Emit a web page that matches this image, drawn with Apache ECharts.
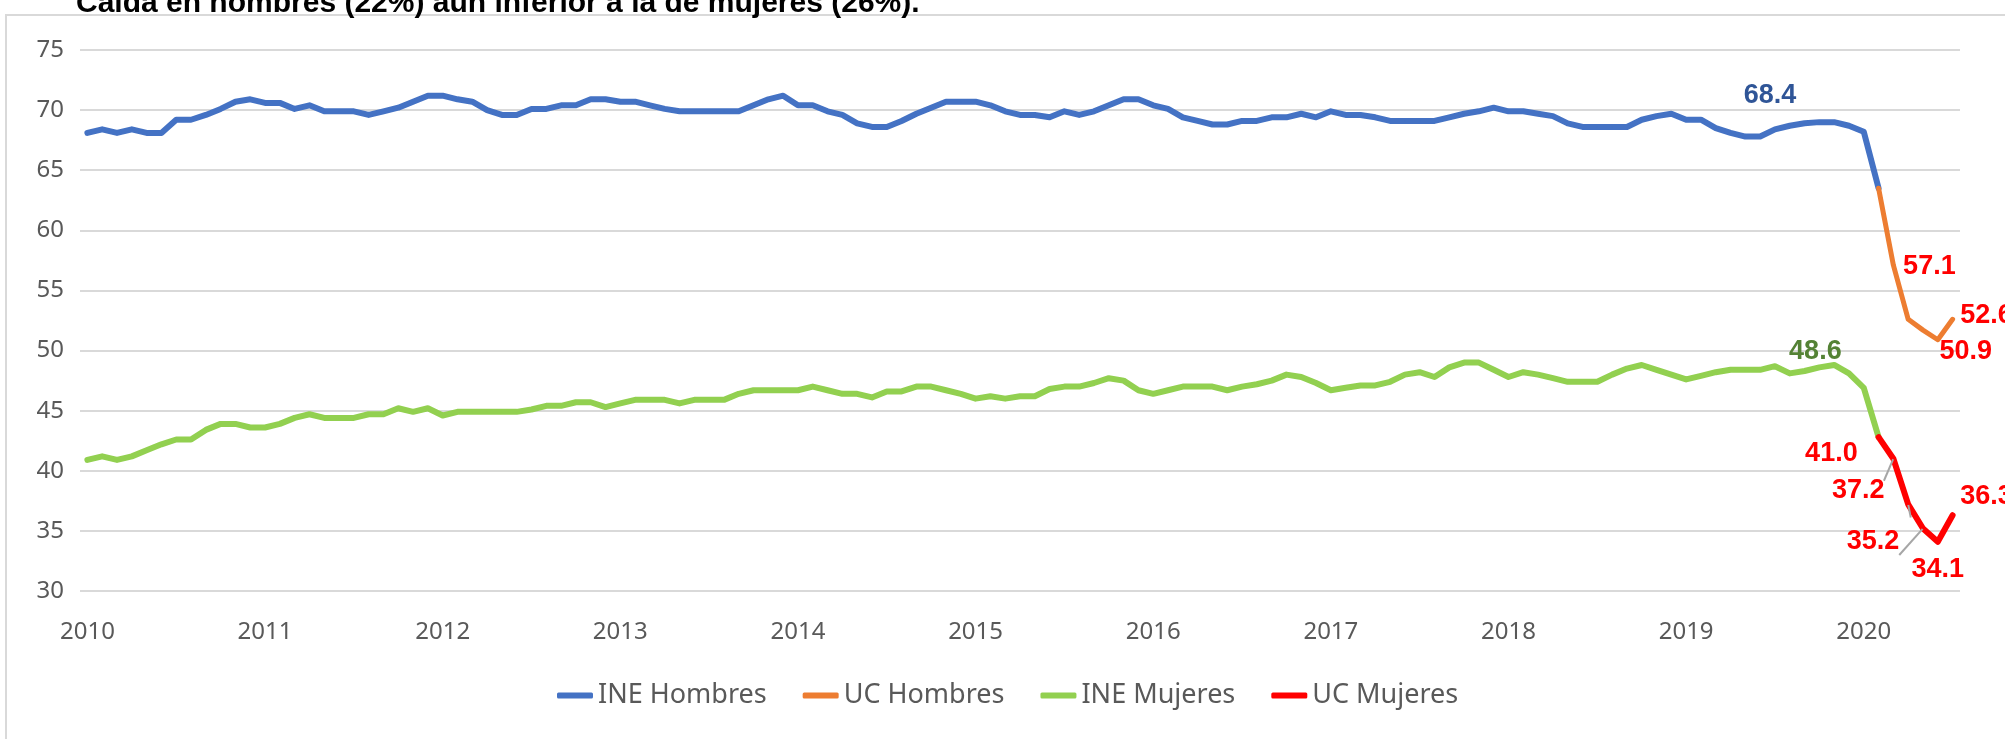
<!DOCTYPE html>
<html>
<head>
<meta charset="utf-8">
<script src="https://cdn.jsdelivr.net/npm/echarts@6/dist/echarts.min.js"></script>
<style>
  html, body { margin: 0; padding: 0; background: #fff; }
  #chart { width: 2005px; height: 739px; }
</style>
</head>
<body>
<div id="chart"></div>
<script>
// eje x: meses desde ene-2010 hasta jul-2020
const years = ["2010", "2011", "2012", "2013", "2014", "2015", "2016", "2017", "2018", "2019", "2020"];
const monthCodes = ["01", "02", "03", "04", "05", "06", "07", "08", "09", "10", "11", "12"];
const lastMonth2020 = 7;

// eje y
const yMin = 30;
const yMax = 75;
const yStep = 5;

// tasas de ocupacion (INE hasta feb-2020)
const ineHombres = [
  68.1, 68.4, 68.1, 68.4, 68.1, 68.1, 69.2, 69.2, 69.6, 70.1, 70.7, 70.9,
  70.6, 70.6, 70.1, 70.4, 69.9, 69.9, 69.9, 69.6, 69.9, 70.2, 70.7, 71.2,
  71.2, 70.9, 70.7, 70.0, 69.6, 69.6, 70.1, 70.1, 70.4, 70.4, 70.9, 70.9,
  70.7, 70.7, 70.4, 70.1, 69.9, 69.9, 69.9, 69.9, 69.9, 70.4, 70.9, 71.2,
  70.4, 70.4, 69.9, 69.6, 68.9, 68.6, 68.6, 69.1, 69.7, 70.2, 70.7, 70.7,
  70.7, 70.4, 69.9, 69.6, 69.6, 69.4, 69.9, 69.6, 69.9, 70.4, 70.9, 70.9,
  70.4, 70.1, 69.4, 69.1, 68.8, 68.8, 69.1, 69.1, 69.4, 69.4, 69.7, 69.4,
  69.9, 69.6, 69.6, 69.4, 69.1, 69.1, 69.1, 69.1, 69.4, 69.7, 69.9, 70.2,
  69.9, 69.9, 69.7, 69.5, 68.9, 68.6, 68.6, 68.6, 68.6, 69.2, 69.5, 69.7,
  69.2, 69.2, 68.5, 68.1, 67.8, 67.8, 68.4, 68.7, 68.9, 69.0, 69.0, 68.7,
  68.2, 63.5
];
const ineMujeres = [
  40.9, 41.2, 40.9, 41.2, 41.7, 42.2, 42.6, 42.6, 43.4, 43.9, 43.9, 43.6,
  43.6, 43.9, 44.4, 44.7, 44.4, 44.4, 44.4, 44.7, 44.7, 45.2, 44.9, 45.2,
  44.6, 44.9, 44.9, 44.9, 44.9, 44.9, 45.1, 45.4, 45.4, 45.7, 45.7, 45.3,
  45.6, 45.9, 45.9, 45.9, 45.6, 45.9, 45.9, 45.9, 46.4, 46.7, 46.7, 46.7,
  46.7, 47.0, 46.7, 46.4, 46.4, 46.1, 46.6, 46.6, 47.0, 47.0, 46.7, 46.4,
  46.0, 46.2, 46.0, 46.2, 46.2, 46.8, 47.0, 47.0, 47.3, 47.7, 47.5, 46.7,
  46.4, 46.7, 47.0, 47.0, 47.0, 46.7, 47.0, 47.2, 47.5, 48.0, 47.8, 47.3,
  46.7, 46.9, 47.1, 47.1, 47.4, 48.0, 48.2, 47.8, 48.6, 49.0, 49.0, 48.4,
  47.8, 48.2, 48.0, 47.7, 47.4, 47.4, 47.4, 48.0, 48.5, 48.8, 48.4, 48.0,
  47.6, 47.9, 48.2, 48.4, 48.4, 48.4, 48.7, 48.1, 48.3, 48.6, 48.8, 48.1,
  46.9, 42.8
];
// encuesta UC, feb-2020 a jul-2020
const ucHombres = [63.5, 57.1, 52.6, 51.7, 50.9, 52.6];
const ucMujeres = [42.8, 41.0, 37.2, 35.2, 34.1, 36.3];

const seriesNames = ["INE Hombres", "UC Hombres", "INE Mujeres", "UC Mujeres"];
const seriesColors = ["#4472C4", "#ED7D31", "#92D050", "#FF0000"];

const titleText = "Caída en hombres (22%) aún inferior a la de mujeres (26%).";

// meses
let months = [];
years.forEach((y) => {
  monthCodes.forEach((m, k) => {
    if (y !== "2020" || k < lastMonth2020) months.push(y + "-" + m);
  });
});
const ucStart = months.length - ucHombres.length;

// etiquetas de datos: indice -> estilo (posicion relativa al punto)
const labelsHombresIne = { 114: { offset: [-5, -15], color: "#2F5597" } };
const labelsMujeresIne = { 117: { offset: [-4, 3], color: "#548235" } };
const labelsHombresUc = {
  1: { offset: [36, 20] },
  4: { offset: [28, 31] },
  5: { offset: [34, 15] },
};
const labelsMujeresUc = {
  1: { offset: [-62, 14], line: true },
  2: { offset: [-50, 5], line: true },
  3: { offset: [-50, 32], line: true },
  4: { offset: [0, 47] },
  5: { offset: [34, 0] },
};

function buildData(values, labels, start) {
  let data = [];
  for (let i = 0; i < start; i++) data.push(null);
  values.forEach((v, i) => {
    const l = labels[i];
    if (!l) {
      data.push(v);
      return;
    }
    data.push({
      value: v,
      label: {
        show: true,
        position: "top",
        offset: l.offset,
        color: l.color || "#FF0000",
      },
      labelLine: { show: !!l.line },
    });
  });
  return data;
}

function makeSeries(idx, data, width, z) {
  return {
    name: seriesNames[idx],
    type: "line",
    data: data,
    symbol: "circle",
    symbolSize: 1,
    showAllSymbol: true,
    z: z,
    lineStyle: { color: seriesColors[idx], width: width, cap: "round", join: "round" },
    itemStyle: { color: seriesColors[idx] },
    label: {
      show: false,
      fontFamily: "Liberation Sans",
      fontWeight: "bold",
      fontSize: 27,
      formatter: (p) => Number(p.value).toFixed(1),
    },
    labelLine: {
      show: false,
      lineStyle: { color: "#A6A6A6", width: 2 },
    },
    emphasis: { disabled: true },
  };
}

const chart = echarts.init(document.getElementById("chart"));

const option = {
  backgroundColor: "#fff",
  animation: false,
  title: {
    text: titleText,
    left: 76,
    top: -11,
    padding: 0,
    textStyle: {
      fontFamily: "Liberation Sans",
      fontWeight: "bold",
      fontSize: 30,
      color: "#000",
    },
  },
  graphic: [
    {
      type: "rect",
      shape: { x: 6, y: 15, width: 2100, height: 800 },
      style: { fill: "none", stroke: "#D9D9D9", lineWidth: 2 },
      silent: true,
    },
  ],
  grid: { left: 80, right: 45, top: 50, bottom: 148 },
  legend: {
    data: seriesNames,
    top: 677,
    left: 552,
    icon: "roundRect",
    itemWidth: 36,
    itemHeight: 6,
    itemGap: 36,
    textStyle: { fontFamily: "Noto Sans", fontSize: 27, color: "#595959" },
  },
  xAxis: {
    type: "category",
    data: months,
    boundaryGap: true,
    axisLine: { show: false },
    axisTick: { show: false },
    axisLabel: {
      interval: 11,
      margin: 29,
      fontFamily: "Noto Sans",
      fontSize: 24,
      color: "#595959",
      formatter: (v) => v.slice(0, 4),
    },
  },
  yAxis: {
    type: "value",
    min: yMin,
    max: yMax,
    interval: yStep,
    axisLine: { show: false },
    axisTick: { show: false },
    axisLabel: { margin: 16, fontFamily: "Noto Sans", fontSize: 24, color: "#595959" },
    splitLine: { lineStyle: { color: "#D9D9D9", width: 2 } },
  },
  series: [
    makeSeries(0, buildData(ineHombres, labelsHombresIne, 0), 6, 3),
    makeSeries(1, buildData(ucHombres, labelsHombresUc, ucStart), 5, 4),
    makeSeries(2, buildData(ineMujeres, labelsMujeresIne, 0), 6, 3),
    makeSeries(3, buildData(ucMujeres, labelsMujeresUc, ucStart), 6, 4),
  ],
};

chart.setOption(option);
</script>
</body>
</html>
